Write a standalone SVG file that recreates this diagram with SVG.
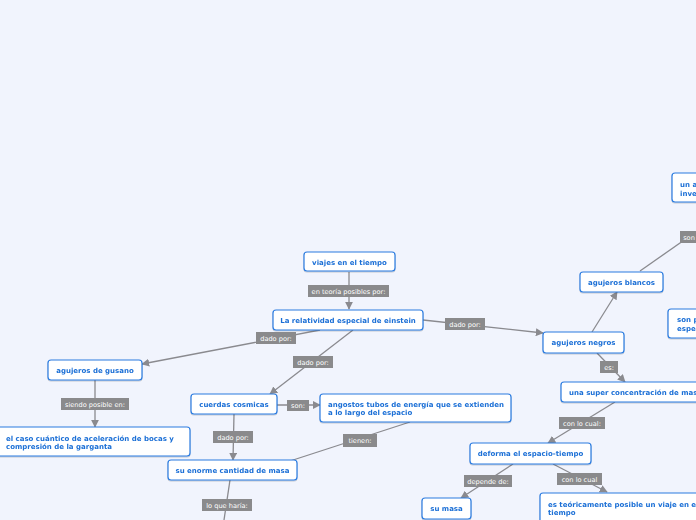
<svg xmlns="http://www.w3.org/2000/svg" width="696" height="520" viewBox="0 0 696 520">
<defs>
<style>
.n rect{fill:#fff;stroke:#2b7be0;stroke-width:1.2}
.n text{font-family:"DejaVu Sans",Verdana,sans-serif;font-weight:bold;font-size:7px;fill:#1b6fd6}
.c line{stroke:#8a8a8f;stroke-width:1.3}
.l rect{fill:#8a8a8c}
.l text{font-family:"DejaVu Sans",Verdana,sans-serif;font-size:6.6px;fill:#fff;text-anchor:middle}
.m{text-anchor:middle}
</style>
<marker id="a" viewBox="0 0 10 10" refX="9" refY="5" markerWidth="8" markerHeight="8" markerUnits="userSpaceOnUse" orient="auto"><path d="M0,0L10,5L0,10z" fill="#8a8a8f"/></marker>
<filter id="s" x="-10%" y="-20%" width="120%" height="150%"><feDropShadow dx="0" dy="1" stdDeviation="0.6" flood-color="#000" flood-opacity="0.18"/></filter>
</defs>
<rect width="696" height="520" fill="#f1f4fd"/>
<g class="c">
<line x1="349" y1="272" x2="349" y2="309" marker-end="url(#a)"/>
<line x1="423" y1="320" x2="543" y2="333" marker-end="url(#a)"/>
<line x1="592" y1="332" x2="617" y2="292" marker-end="url(#a)"/>
<line x1="640" y1="271" x2="690" y2="236"/>
<line x1="597" y1="353" x2="625" y2="382" marker-end="url(#a)"/>
<line x1="615" y1="402" x2="548" y2="443" marker-end="url(#a)"/>
<line x1="513" y1="464" x2="461" y2="498" marker-end="url(#a)"/>
<line x1="553" y1="464" x2="607" y2="492" marker-end="url(#a)"/>
<line x1="320" y1="330" x2="142" y2="364" marker-end="url(#a)"/>
<line x1="95" y1="380" x2="95" y2="427" marker-end="url(#a)"/>
<line x1="353" y1="330" x2="270" y2="394" marker-end="url(#a)"/>
<line x1="277" y1="405" x2="320" y2="405" marker-end="url(#a)"/>
<line x1="234" y1="414" x2="233" y2="460" marker-end="url(#a)"/>
<line x1="410" y1="422" x2="290" y2="461"/>
<line x1="230" y1="480" x2="224" y2="520"/>
</g>
<g class="l">
<g><rect x="308" y="285" width="81" height="12"/><text x="348.5" y="293.5">en teoría posibles por:</text></g>
<g><rect x="445" y="318" width="40" height="12"/><text x="465" y="326.5">dado por:</text></g>
<g><rect x="680" y="231" width="30" height="12"/><text x="689" y="239.5">son</text></g>
<g><rect x="600" y="361" width="18" height="12"/><text x="609" y="369.5">es:</text></g>
<g><rect x="559" y="417" width="46" height="12"/><text x="582" y="425.5">con lo cual:</text></g>
<g><rect x="464" y="475" width="48" height="12"/><text x="488" y="483.5">depende de:</text></g>
<g><rect x="557" y="473" width="45" height="12"/><text x="579.5" y="481.5">con lo cual</text></g>
<g><rect x="256" y="332" width="40" height="12"/><text x="276" y="340.5">dado por:</text></g>
<g><rect x="61" y="398" width="68" height="12"/><text x="95" y="406.5">siendo posible en:</text></g>
<g><rect x="293" y="356" width="40" height="12"/><text x="313" y="364.5">dado por:</text></g>
<g><rect x="287" y="400" width="22" height="11"/><text x="298" y="408">son:</text></g>
<g><rect x="213" y="431" width="40" height="12"/><text x="233" y="439.5">dado por:</text></g>
<g><rect x="343" y="434" width="34" height="13"/><text x="360" y="443">tienen:</text></g>
<g><rect x="202" y="499" width="50" height="12"/><text x="227" y="507.5">lo que haría:</text></g>
</g>
<g class="n" id="viajes" filter="url(#s)"><rect x="304" y="252" width="91" height="19" rx="3"/><text class="m" x="349.5" y="264.5">viajes en el tiempo</text></g>
<g class="n" id="relatividad" filter="url(#s)"><rect x="273" y="310" width="150" height="20" rx="3"/><text class="m" x="348" y="322.5">La relatividad especial de einstein</text></g>
<g class="n" id="negros" filter="url(#s)"><rect x="543" y="332" width="81" height="21" rx="3"/><text class="m" x="583.5" y="345">agujeros negros</text></g>
<g class="n" id="blancos" filter="url(#s)"><rect x="580" y="272" width="83" height="20" rx="3"/><text class="m" x="621.5" y="284.5">agujeros blancos</text></g>
<g class="n" id="una-a" filter="url(#s)"><rect x="672" y="173" width="100" height="29" rx="3"/><text x="680" y="186.5">un a</text><text x="680" y="195.5">inve</text></g>
<g class="n" id="son-p" filter="url(#s)"><rect x="668" y="309" width="100" height="29" rx="3"/><text x="677" y="321.5">son p</text><text x="677" y="330.5">espe</text></g>
<g class="n" id="super" filter="url(#s)"><rect x="561" y="382" width="150" height="20" rx="3"/><text x="569" y="394.5">una super concentración de masa</text></g>
<g class="n" id="deforma" filter="url(#s)"><rect x="470" y="443" width="121" height="21" rx="3"/><text class="m" x="530.5" y="456">deforma el espacio-tiempo</text></g>
<g class="n" id="sumasa" filter="url(#s)"><rect x="422" y="498" width="49" height="21" rx="3"/><text class="m" x="446.5" y="511">su masa</text></g>
<g class="n" id="teoricamente" filter="url(#s)"><rect x="540" y="493" width="180" height="32" rx="3"/><text x="548" y="506.5">es teóricamente posible un viaje en el</text><text x="548" y="514.5">tiempo</text></g>
<g class="n" id="gusano" filter="url(#s)"><rect x="48" y="360" width="94" height="20" rx="3"/><text class="m" x="95" y="372.5">agujeros de gusano</text></g>
<g class="n" id="caso" filter="url(#s)"><rect x="-3" y="427" width="193" height="29" rx="3"/><text x="6" y="440.5">el caso cuántico de aceleración de bocas y</text><text x="6" y="448.5">compresión de la garganta</text></g>
<g class="n" id="cuerdas" filter="url(#s)"><rect x="191" y="394" width="86" height="20" rx="3"/><text class="m" x="234" y="406.5">cuerdas cosmicas</text></g>
<g class="n" id="angostos" filter="url(#s)"><rect x="320" y="394" width="191" height="28" rx="3"/><text x="328" y="406.5">angostos tubos de energía que se extienden</text><text x="328" y="414.5">a lo largo del espacio</text></g>
<g class="n" id="enorme" filter="url(#s)"><rect x="168" y="460" width="129" height="20" rx="3"/><text class="m" x="232.5" y="472.5">su enorme cantidad de masa</text></g>
</svg>
